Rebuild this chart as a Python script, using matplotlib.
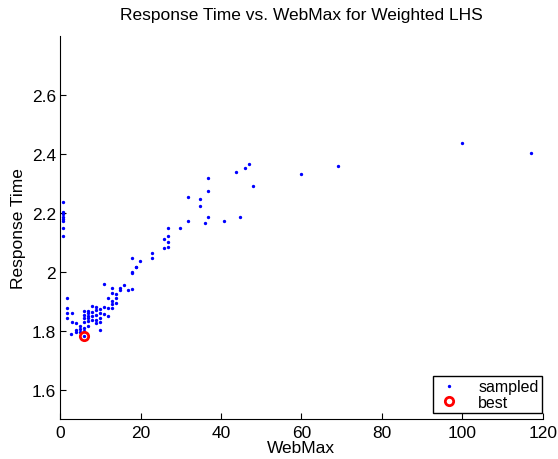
import matplotlib
matplotlib.use("Agg")
from matplotlib import pyplot as plt

plt.rcParams['font.family'] = ['Liberation Sans', 'DejaVu Sans']

# sampled points (WebMax, Response Time)
web_max = [0.7, 0.6, 0.8, 0.7, 0.8, 0.7, 0.7, 0.8,
           1.7, 1.7, 1.8, 1.7,
           2.8, 2.8, 2.7,
           3.8, 3.8, 3.9,
           4.8, 4.8, 4.9,
           5.8, 5.8, 5.9, 5.8, 5.9, 5.8, 5.8,
           6.8, 6.8, 6.9, 6.8, 6.8, 6.8,
           7.8, 7.8, 7.9, 7.8,
           8.8, 8.8, 8.8, 8.9, 8.8,
           9.8, 9.8, 9.9, 9.8, 9.8,
           10.8, 10.8, 10.8,
           11.8, 11.8, 11.8,
           12.8, 12.8, 12.8, 12.8, 12.8,
           13.8, 13.8, 13.8,
           14.8, 14.8,
           15.8, 16.8, 17.8, 17.8, 17.8, 17.8,
           18.8, 18.8, 19.8, 22.8, 22.8,
           25.7, 25.7, 26.7, 26.7, 26.7, 26.7,
           29.8, 31.8, 31.8, 34.8, 34.8, 35.9,
           36.8, 36.8, 36.8, 40.8, 43.8, 44.8,
           45.9, 46.9, 47.9, 59.9, 69.0, 100.0, 117.1]
resp_time = [2.235, 2.201, 2.196, 2.184, 2.178, 2.171, 2.147, 2.120,
             1.911, 1.878, 1.861, 1.844,
             1.859, 1.830, 1.790,
             1.827, 1.802, 1.794,
             1.817, 1.806, 1.794,
             1.868, 1.853, 1.842, 1.828, 1.810, 1.797, 1.783,
             1.866, 1.858, 1.851, 1.842, 1.833, 1.814,
             1.883, 1.864, 1.851, 1.836,
             1.881, 1.870, 1.853, 1.836, 1.825,
             1.872, 1.858, 1.842, 1.828, 1.802,
             1.957, 1.879, 1.856,
             1.910, 1.876, 1.851,
             1.946, 1.928, 1.900, 1.890, 1.875,
             1.924, 1.909, 1.895,
             1.946, 1.937,
             1.953, 1.939, 1.940, 2.047, 1.999, 1.994,
             2.017, 2.014, 2.037, 2.064, 2.047,
             2.111, 2.080, 2.148, 2.120, 2.100, 2.083,
             2.149, 2.252, 2.170, 2.248, 2.224, 2.164,
             2.318, 2.275, 2.186, 2.171, 2.338, 2.186,
             2.351, 2.365, 2.289, 2.331, 2.358, 2.435, 2.401]

best_x = [5.8]
best_y = [1.783]

x_ticks = [0, 20, 40, 60, 80, 100, 120]
y_ticks = [1.6, 1.8, 2.0, 2.2, 2.4, 2.6]
y_labels = ['1.6', '1.8', '2', '2.2', '2.4', '2.6']

fig = plt.figure(figsize=(5.58, 4.60), dpi=100)
ax = fig.add_axes([0.108, 0.087, 0.8645, 0.833])

ax.plot(web_max, resp_time, '.', color='blue', markersize=2.8, label='sampled')
ax.plot(best_x, best_y, 'o', markerfacecolor='none', markeredgecolor='red',
        markeredgewidth=2, markersize=6, label='best')

ax.set_xlim(0, 120)
ax.set_ylim(1.5, 2.8)
ax.set_xticks(x_ticks)
ax.set_yticks(y_ticks)
ax.set_yticklabels(y_labels)
ax.tick_params(direction='in', length=4, labelsize=12.5, width=0.8)
ax.tick_params(axis='x', pad=4.5)
ax.tick_params(axis='y', pad=3)
ax.spines['top'].set_visible(False)
ax.spines['right'].set_visible(False)

ax.set_title('Response Time vs. WebMax for Weighted LHS', fontsize=12.5, pad=12)
ax.set_xlabel('WebMax', fontsize=12.5, labelpad=0)
ax.set_ylabel('Response Time', fontsize=12.5, labelpad=4)

leg = ax.legend(loc='lower right', bbox_to_anchor=(0.998, 0.015), borderaxespad=0,
                fontsize=11.5, fancybox=False, edgecolor='black', framealpha=1,
                handletextpad=1.0, borderpad=0.2, labelspacing=0.05,
                handlelength=1.6)
leg.get_frame().set_linewidth(1.0)

fig.savefig('out.png', dpi=100)
